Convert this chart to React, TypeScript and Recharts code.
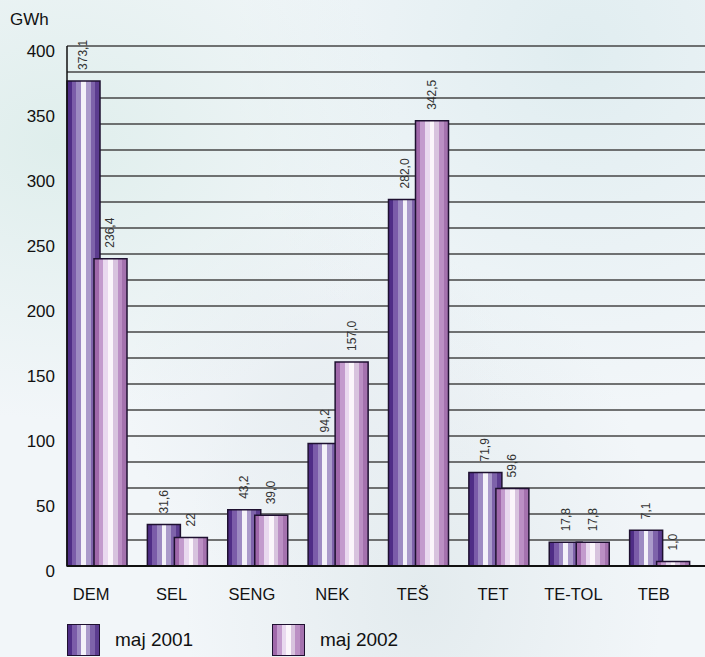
import React from "react";
import {
  Bar,
  BarChart,
  CartesianGrid,
  LabelList,
  XAxis,
  YAxis,
} from "recharts";

// plants
const categories = ["DEM", "SEL", "SENG", "NEK", "TEŠ", "TET", "TE-TOL", "TEB"];

// bar heights as drawn (GWh)
const may2001 = [373.1, 32, 43.2, 94.2, 282.0, 71.9, 18.2, 27.5];
const may2002 = [236.4, 22, 39.0, 157.0, 342.5, 59.6, 18.2, 3.5];

// printed value labels
const labels2001 = ["373,1", "31,6", "43,2", "94,2", "282,0", "71,9", "17,8", "7,1"];
const labels2002 = ["236,4", "22", "39,0", "157,0", "342,5", "59,6", "17,8", "1,0"];

const yTicks = [0, 50, 100, 150, 200, 250, 300, 350, 400];
const gridValues = Array.from({ length: 41 }, (_, i) => i * 10);

const stripes2001 = ["#4f2d86", "#7b5ca9", "#9d8ac2", "#f4f2f9", "#ab9bcb", "#7e63aa", "#5c3c8f"];
const stripes2002 = ["#a068aa", "#c39bcd", "#e9d9ef", "#fbf6fb", "#d8c3de", "#bb8fc4", "#a472ae"];

const FONT = "'Liberation Sans', Arial, Helvetica, sans-serif";

const data = categories.map((name, i) => ({
  name,
  v2001: may2001[i],
  v2002: may2002[i],
  l2001: labels2001[i],
  l2002: labels2002[i],
}));

const StripeGradient = ({ id, colors }: { id: string; colors: string[] }) => {
  const n = colors.length;
  return (
    <linearGradient id={id} x1="0" y1="0" x2="1" y2="0">
      {colors.map((c, i) => (
        <React.Fragment key={i}>
          <stop offset={i / n} stopColor={c} />
          <stop offset={(i + 1) / n} stopColor={c} />
        </React.Fragment>
      ))}
    </linearGradient>
  );
};

// vertical value label above each bar
const VerticalLabel = (props: any) => {
  const { x, y, width, value } = props;
  const cx = x + width / 2;
  const cy = y - 11;
  return (
    <text
      x={cx}
      y={cy}
      transform={`rotate(-90 ${cx} ${cy})`}
      textAnchor="start"
      dominantBaseline="central"
      fontSize={12}
      fontFamily={FONT}
      fill="#333"
    >
      {value}
    </text>
  );
};

const Swatch = ({ colors }: { colors: string[] }) => (
  <span
    style={{
      display: "inline-block",
      width: 33,
      height: 32,
      border: "1.5px solid #1e1030",
      boxSizing: "border-box",
      background: `linear-gradient(to right, ${colors
        .map((c, i) => `${c} ${(i / colors.length) * 100}%, ${c} ${((i + 1) / colors.length) * 100}%`)
        .join(", ")})`,
    }}
  />
);

export default function App() {
  return (
    <div
      style={{
        position: "absolute",
        left: 0,
        top: 0,
        width: 705,
        height: 657,
        overflow: "hidden",
        fontFamily: FONT,
        background:
          "radial-gradient(ellipse at 8% 22%, #dfeeec 0%, rgba(223,238,236,0) 38%)," +
          "radial-gradient(ellipse at 82% 8%, #e0edf0 0%, rgba(224,237,240,0) 42%)," +
          "radial-gradient(ellipse at 45% 60%, #e8eef2 0%, rgba(232,238,242,0) 35%)," +
          "radial-gradient(ellipse at 60% 90%, #e3ebee 0%, rgba(227,235,238,0) 40%)," +
          "#f2f6f9",
      }}
    >
      <div
        style={{
          position: "absolute",
          left: 10,
          top: 10,
          fontSize: 17,
          color: "#111",
        }}
      >
        GWh
      </div>
      <BarChart
        width={705}
        height={657}
        data={data}
        margin={{ top: 46, right: 0, left: 7, bottom: 61 }}
        barSize={33}
        barGap={-6}
      >
        <defs>
          <StripeGradient id="g2001" colors={stripes2001} />
          <StripeGradient id="g2002" colors={stripes2002} />
        </defs>
        <CartesianGrid
          vertical={false}
          horizontalValues={gridValues}
          stroke="#464646"
          strokeWidth={1.4}
        />
        <XAxis
          dataKey="name"
          padding={{ left: -10, right: 5 }}
          tickLine={false}
          axisLine={{ stroke: "#111", strokeWidth: 2 }}
          tick={{ fontSize: 16.5, fill: "#111", fontFamily: FONT, dx: -6, dy: 14 }}
          interval={0}
        />
        <YAxis
          width={60}
          domain={[0, 400]}
          ticks={yTicks}
          tickLine={false}
          axisLine={{ stroke: "#111", strokeWidth: 1.5 }}
          tick={{ fontSize: 17, fill: "#111", fontFamily: FONT, dx: -4, dy: 5 }}
        />
        <Bar
          dataKey="v2001"
          fill="url(#g2001)"
          stroke="#1e1030"
          strokeWidth={1.5}
          isAnimationActive={false}
        >
          <LabelList dataKey="l2001" content={<VerticalLabel />} />
        </Bar>
        <Bar
          dataKey="v2002"
          fill="url(#g2002)"
          stroke="#1e1030"
          strokeWidth={1.5}
          isAnimationActive={false}
        >
          <LabelList dataKey="l2002" content={<VerticalLabel />} />
        </Bar>
      </BarChart>
      <div
        style={{
          position: "absolute",
          left: 67,
          top: 624,
          display: "flex",
          alignItems: "center",
          fontSize: 19,
          color: "#111",
        }}
      >
        <Swatch colors={stripes2001} />
        <span style={{ marginLeft: 15, width: 157 }}>maj 2001</span>
        <Swatch colors={stripes2002} />
        <span style={{ marginLeft: 15 }}>maj 2002</span>
      </div>
    </div>
  );
}
